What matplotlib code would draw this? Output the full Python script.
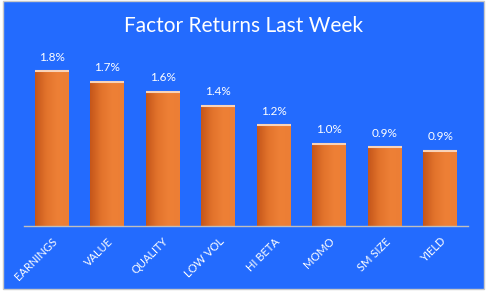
import matplotlib.pyplot as plt
import numpy as np
from matplotlib.patches import Rectangle
from matplotlib.colors import LinearSegmentedColormap

factores = ["EARNINGS", "VALUE", "QUALITY", "LOW VOL", "HI BETA", "MOMO", "SM SIZE", "YIELD"]
retornos = [1.81, 1.69, 1.57, 1.41, 1.18, 0.96, 0.92, 0.88]
etiquetas = ["1.8%", "1.7%", "1.6%", "1.4%", "1.2%", "1.0%", "0.9%", "0.9%"]

AZUL = "#236BFE"
plt.rcParams['font.family'] = ['Lato', 'DejaVu Sans']

fig = plt.figure(figsize=(4.88, 2.95), dpi=100)
fig.patch.set_facecolor("white")
# fondo azul con borde gris
fig.patches.append(Rectangle((3 / 488, 6 / 295), 481 / 488, 288 / 295, transform=fig.transFigure,
                             facecolor=AZUL, edgecolor="#C8C8C8", linewidth=1, zorder=-1))

ax = fig.add_axes([24 / 488, 69 / 295, 444 / 488, 188 / 295])
ax.set_facecolor("none")

x = np.arange(len(factores))
ancho = 0.61
barras = ax.bar(x, retornos, width=ancho, color="none")

# degradado naranja en cada barra
cmap = LinearSegmentedColormap.from_list("naranja", ["#C5561A", "#E2732C", "#EE8036", "#EC7E35"])
grad = np.linspace(0, 1, 64).reshape(1, -1)
for b, v in zip(barras, retornos):
    x0 = b.get_x()
    ax.imshow(grad, cmap=cmap, extent=(x0, x0 + ancho, 0, v), aspect="auto", zorder=2)
    ax.hlines(v, x0, x0 + ancho, color="#F9D3B8", linewidth=1.5, zorder=3)

for xi, v, t in zip(x, retornos, etiquetas):
    ax.text(xi, v + 0.1, t, ha="center", va="bottom", color="white", fontsize=8.5)

ax.set_xlim(-0.5, len(factores) - 0.5)
ax.set_ylim(0, 2.2)
ax.set_yticks([])
ax.set_xticks(x)
ax.set_xticklabels(factores, rotation=45, ha="right", rotation_mode="anchor", color="white", fontsize=8)
ax.tick_params(axis="x", length=0, pad=7)
for s in ["top", "right", "left"]:
    ax.spines[s].set_visible(False)
ax.spines["bottom"].set_color("#BFBFBF")
ax.spines["bottom"].set_linewidth(1)

fig.text(243 / 488, 1 - 26 / 295, "Factor Returns Last Week", ha="center", va="center",
         color="white", fontsize=15)

fig.savefig("out.png", dpi=100, facecolor=fig.get_facecolor())
